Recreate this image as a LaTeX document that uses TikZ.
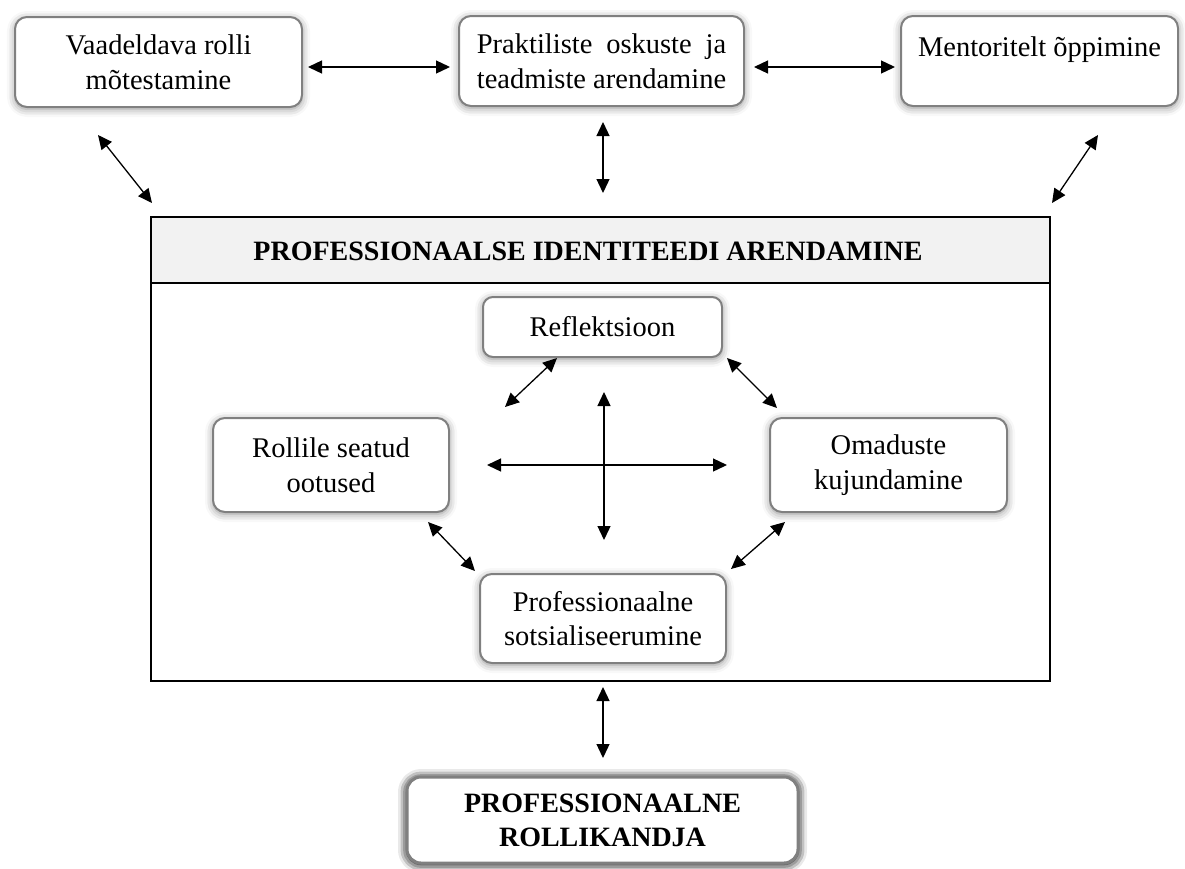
\documentclass[tikz,border=0pt]{standalone}
\usepackage{fontspec}
\setmainfont{Liberation Serif}
\usepackage{calc}
\usetikzlibrary{arrows.meta,shadows.blur}

\definecolor{boxgray}{HTML}{808080}
\definecolor{headfill}{HTML}{F2F2F2}

\tikzset{
  txt/.style={font=\fontsize{28.5}{34.5}\selectfont},
  box/.style={txt, draw=boxgray, line width=2pt, rounded corners=12pt, fill=white,
    align=center, inner sep=0pt,
    blur shadow={shadow xshift=0pt, shadow yshift=-2pt, shadow blur radius=8pt, shadow opacity=45}},
  bigbox/.style={box, line width=3pt, rounded corners=14pt,
    blur shadow={shadow xshift=0pt, shadow yshift=-1pt, shadow blur radius=9pt, shadow opacity=70}},
  link/.style={line width=1.3pt, {Triangle[length=14pt,width=13pt]}-{Triangle[length=14pt,width=13pt]}},
}

\begin{document}
\begin{tikzpicture}[x=1pt, y=-1pt]
  \useasboundingbox (0,0) rectangle (1185,868);

  % outer frame with its grey title band
  \draw[line width=2.5pt, fill=headfill] (151,217) rectangle (1050,283);
  \draw[line width=2.5pt] (151,283) rectangle (1050,681);
  \node[txt, font=\fontsize{28}{34}\selectfont\bfseries] (head) at (588,251) {PROFESSIONAALSE IDENTITEEDI ARENDAMINE};

  % upper row
  \node[box, minimum width=287pt, minimum height=90pt] (view) at (158.5,62) {Vaadeldava rolli\\mõtestamine};
  \node[box, minimum width=285pt, minimum height=90pt] (skill) at (601.5,61)
    {\makebox[\widthof{teadmiste arendamine}][s]{Praktiliste oskuste ja}\\teadmiste arendamine};
  \node[box, minimum width=277pt, minimum height=90pt] (mentor) at (1039.5,61) {Mentoritelt õppimine\\[-6pt]\mbox{}};

  % inner ring
  \node[box, rounded corners=10pt, minimum width=239pt, minimum height=60pt] (refl) at (602.5,327) {Reflektsioon};
  \node[box, rounded corners=12pt, minimum width=236pt, minimum height=94pt] (role) at (331,465) {Rollile seatud\\ootused};
  \node[box, rounded corners=12pt, minimum width=237pt, minimum height=94pt] (trait) at (888.5,465) {Omaduste\\kujundamine};
  \node[box, rounded corners=12pt, minimum width=246pt, minimum height=89pt] (soc) at (603,618.5) {Professionaalne\\sotsialiseerumine};

  % result
  \node[bigbox, minimum width=391pt, minimum height=86pt, font=\fontsize{28}{34}\selectfont\bfseries] (carrier) at (602.5,820) {PROFESSIONAALNE\\ROLLIKANDJA};

  % free arrow ends
  \coordinate (ab1) at (308,67);   \coordinate (ab2) at (450,67);
  \coordinate (bc1) at (754,67);   \coordinate (bc2) at (895,67);
  \coordinate (ad1) at (98,135);   \coordinate (ad2) at (152,203);
  \coordinate (cd1) at (1098,135); \coordinate (cd2) at (1052,203);
  \coordinate (bd1) at (603,122);  \coordinate (bd2) at (603,193);
  \coordinate (rl1) at (557,358);  \coordinate (rl2) at (505,407);
  \coordinate (rr1) at (727,358);  \coordinate (rr2) at (777,408);
  \coordinate (cv1) at (604,392);  \coordinate (cv2) at (604,540);
  \coordinate (ch1) at (487,465);  \coordinate (ch2) at (727,465);
  \coordinate (ll1) at (428,522);  \coordinate (ll2) at (475,571);
  \coordinate (lr1) at (785,522);  \coordinate (lr2) at (731,569);
  \coordinate (fd1) at (603,687);  \coordinate (fd2) at (603,758);

  \draw[link] (ab1) -- (ab2);
  \draw[link] (bc1) -- (bc2);
  \draw[link] (ad1) -- (ad2);
  \draw[link] (cd1) -- (cd2);
  \draw[link] (bd1) -- (bd2);
  \draw[link] (rl1) -- (rl2);
  \draw[link] (rr1) -- (rr2);
  \draw[link] (cv1) -- (cv2);
  \draw[link] (ch1) -- (ch2);
  \draw[link] (ll1) -- (ll2);
  \draw[link] (lr1) -- (lr2);
  \draw[link] (fd1) -- (fd2);
\end{tikzpicture}
\end{document}
